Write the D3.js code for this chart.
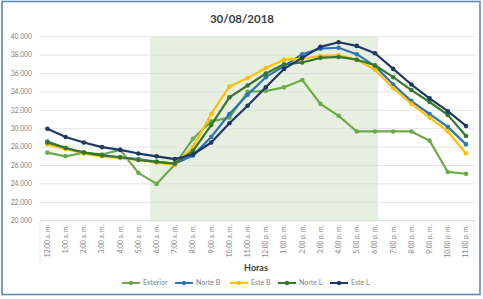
<!DOCTYPE html>
<html><head><meta charset="utf-8">
<script src="https://cdn.jsdelivr.net/npm/d3@7"></script>
<style>
html,body{margin:0;padding:0;background:#fff;}
svg{display:block;font-family:Lato,"Open Sans",sans-serif;}
</style></head>
<body><svg id="c" width="483" height="299"></svg>
<script>
const hours = ["12:00 a. m.","1:00 a. m.","2:00 a. m.","3:00 a. m.","4:00 a. m.","5:00 a. m.","6:00 a. m.","7:00 a. m.","8:00 a. m.","9:00 a. m.","10:00 a. m.","11:00 a. m.","12:00 p. m.","1:00 p. m.","2:00 p. m.","3:00 p. m.","4:00 p. m.","5:00 p. m.","6:00 p. m.","7:00 p. m.","8:00 p. m.","9:00 p. m.","10:00 p. m.","11:00 p. m."];
const exterior = [27.4,27.0,27.4,27.2,27.7,25.2,24.0,26.1,28.9,30.8,31.2,34.0,34.1,34.5,35.3,32.7,31.4,29.7,29.7,29.7,29.7,28.7,25.3,25.1];
const norteB   = [28.6,27.9,27.4,27.1,26.9,26.7,26.4,26.2,27.1,29.1,31.6,33.7,35.6,36.8,38.1,38.7,38.8,38.1,36.8,34.8,33.0,31.6,30.2,28.3];
const esteB    = [28.3,27.8,27.3,27.0,26.8,26.6,26.3,26.1,28.0,31.6,34.6,35.5,36.6,37.5,37.6,37.9,38.0,37.5,36.4,34.4,32.7,31.2,29.7,27.3];
const norteL   = [28.5,27.9,27.4,27.1,26.9,26.6,26.4,26.2,27.6,30.4,33.4,34.7,36.0,37.0,37.2,37.7,37.8,37.5,36.9,35.6,34.2,32.9,31.5,29.2];
const esteL    = [30.0,29.1,28.5,28.0,27.7,27.3,27.0,26.7,27.2,28.5,30.6,32.5,34.5,36.5,37.7,38.9,39.4,39.0,38.2,36.5,34.8,33.3,31.9,30.3];
const seriesNames = ["Exterior","Norte B","Este B","Norte L","Este L"];
const yTicks = [20,22,24,26,28,30,32,34,36,38,40];
const title = "30/08/2018";
const xTitle = "Horas";
const shadeFrom = "6:00 a. m.", shadeTo = "6:00 p. m.";

const colors = ["#6AAB46","#2E75B6","#FFC000","#38762F","#1F3864"];
const series = [exterior,norteB,esteB,norteL,esteL];

const svg = d3.select("#c");
// frame
svg.append("rect").attr("x",2).attr("y",1.5).attr("width",478).attr("height",293)
  .attr("fill","#fff").attr("stroke","#5A88B4").attr("stroke-width",1.6);

const x = d3.scalePoint().domain(hours).range([47.4,466]);
const y = d3.scaleLinear().domain([20,40]).range([220.7,36.7]);
const step = x.step();

// shaded day region
const sx0 = x(shadeFrom) - step*0.36, sx1 = x(shadeTo) + step*0.18;
svg.append("rect")
  .attr("x", sx0).attr("width", sx1 - sx0)
  .attr("y", y(40)).attr("height", y(20)-y(40))
  .attr("fill","#E7F0E0");

// gridlines
svg.append("g").selectAll("line").data(yTicks.slice(1)).join("line")
  .attr("x1",40).attr("x2",475).attr("y1",d=>y(d)).attr("y2",d=>y(d))
  .attr("stroke","#DCDCDC").attr("stroke-width",0.8);
// axis box
svg.append("line").attr("x1",40).attr("x2",475).attr("y1",y(20)).attr("y2",y(20))
  .attr("stroke","#D0D0D0").attr("stroke-width",0.8);
svg.append("line").attr("x1",40).attr("x2",40).attr("y1",y(20)).attr("y2",264)
  .attr("stroke","#E6E6E6").attr("stroke-width",0.8);
svg.append("line").attr("x1",474).attr("x2",474).attr("y1",y(20)).attr("y2",264)
  .attr("stroke","#E6E6E6").attr("stroke-width",0.8);

// y labels
svg.append("g").selectAll("text").data(yTicks).join("text")
  .attr("x",32).attr("y",d=>y(d)).attr("dy","0.35em").attr("text-anchor","end")
  .attr("font-size",6.8).attr("fill","#7F7F7F")
  .text(d=>d3.format(".3f")(d));

// x labels rotated
svg.append("g").selectAll("text").data(hours).join("text")
  .attr("transform",d=>`translate(${x(d)+2.3},225) rotate(-90)`)
  .attr("text-anchor","end").attr("font-size",6.6).attr("fill","#7F7F7F")
  .text(d=>d);

// lines
const line = d3.line().x((d,i)=>x(hours[i])).y(d=>y(d));
series.forEach((s,k)=>{
  const g = svg.append("g");
  g.append("path").datum(s).attr("d",line).attr("fill","none")
    .attr("stroke",colors[k]).attr("stroke-width",2.2).attr("stroke-linejoin","round");
  g.selectAll("circle").data(s).join("circle")
    .attr("cx",(d,i)=>x(hours[i])).attr("cy",d=>y(d)).attr("r",2.3)
    .attr("fill",colors[k]);
});

// title
svg.append("text").attr("x",242).attr("y",23).attr("text-anchor","middle")
  .attr("font-size",11.5).attr("font-weight","bold").attr("fill","#404040").text(title);
// x title
svg.append("text").attr("x",256).attr("y",271).attr("text-anchor","middle")
  .attr("font-size",9).attr("font-weight","bold").attr("fill","#404040").text(xTitle);

// legend
const legX = [122,175,230,278,330];
const lg = svg.append("g");
seriesNames.forEach((n,k)=>{
  const gx = legX[k];
  lg.append("line").attr("x1",gx).attr("x2",gx+18).attr("y1",283).attr("y2",283)
    .attr("stroke",colors[k]).attr("stroke-width",2);
  lg.append("circle").attr("cx",gx+9).attr("cy",283).attr("r",2.2).attr("fill",colors[k]);
  lg.append("text").attr("x",gx+21).attr("y",283).attr("dy","0.35em")
    .attr("font-size",7).attr("fill","#7F7F7F").text(n);
});
</script></body></html>
